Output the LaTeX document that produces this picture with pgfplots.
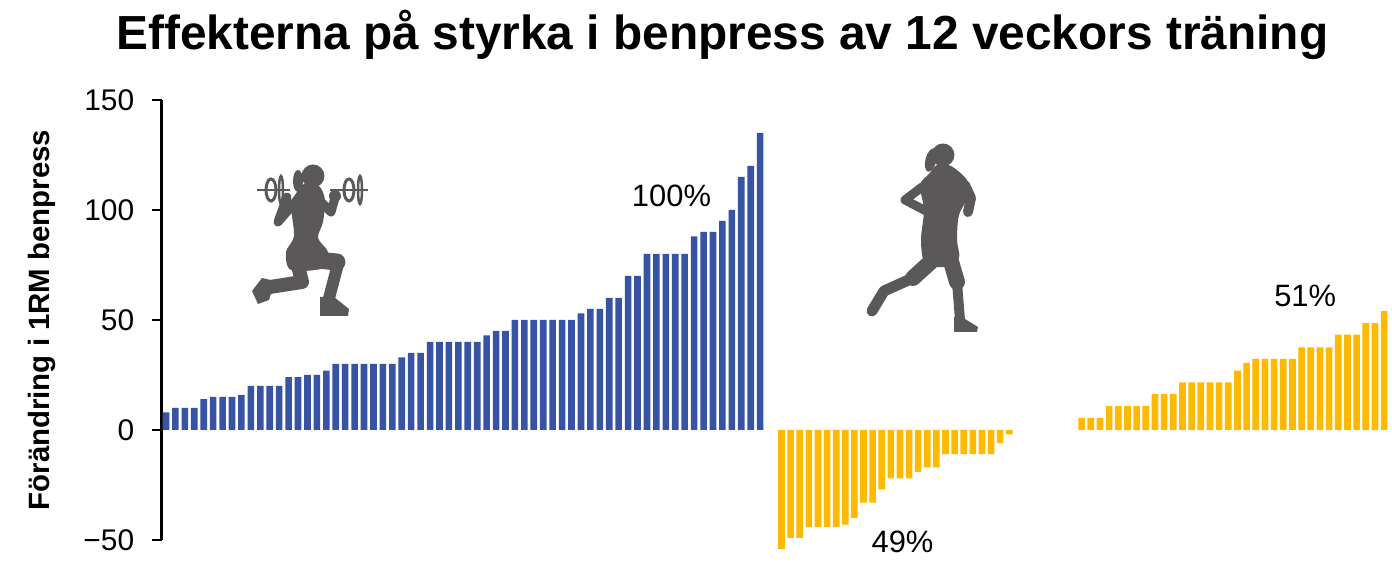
\documentclass[border=0pt]{standalone}
\usepackage{pgfplots}
\pgfplotsset{compat=1.18}
\usepackage{pgfplotstable}
\usepackage{fontspec}
\setmainfont{Liberation Sans}
\definecolor{bblue}{RGB}{54,83,164}
\definecolor{bor}{RGB}{255,185,0}
\definecolor{sil}{RGB}{90,88,88}

\pgfplotstableread{
v
8
10
10
10
14
15
15
15
16
20
20
20
20
24
24
25
25
27
30
30
30
30
30
30
30
33
35
35
40
40
40
40
40
40
43
45
45
50
50
50
50
50
50
50
53
55
55
60
60
70
70
80
80
80
80
80
88
90
90
95
100
115
120
135
}\strength

\pgfplotstableread{
v
-54
-49
-49
-44
-44
-44
-44
-43
-40
-33
-33
-27
-22
-22
-22
-19
-17
-17
-11
-11
-11
-11
-11
-11
-6
-2
}\runneg

\pgfplotstableread{
v
5.5
5.5
5.5
10.8
10.8
10.8
10.8
10.8
16.4
16.4
16.4
21.7
21.7
21.7
21.7
21.7
21.7
27
30.5
32.3
32.3
32.3
32.3
32.3
37.6
37.6
37.6
37.6
43.3
43.3
43.3
48.6
48.6
54
}\runpos

\begin{document}
\begin{tikzpicture}
\useasboundingbox (0,0) rectangle (1392bp,580bp);
\begin{axis}[
  at={(161.7bp,40bp)}, anchor=south west,
  scale only axis, width=1230.3bp, height=440bp,
  xmin=-0.456, xmax=130.0,
  ymin=-50, ymax=150,
  clip=false,
  axis x line=none,
  axis y line*=left,
  y axis line style={line width=2.5bp, -},
  ytick={-50,0,50,100,150},
  yticklabels={−50,0,50,100,150},
  tick align=outside,
  major tick length=10bp,
  ytick style={line width=2.5bp, black},
  yticklabel style={font=\fontsize{30}{30}\selectfont, xshift=-14bp},
  title={\bfseries Effekterna på styrka i benpress av 12 veckors träning},
  title style={at={(axis description cs:0.4558,1.1023)}, anchor=base, font=\fontsize{48}{48}\selectfont},
  ylabel={\bfseries Förändring i 1RM benpress},
  ylabel style={at={(axis description cs:-0.0975,0.5)}, anchor=center, font=\fontsize{29.5}{29.5}\selectfont},
  ybar, bar width=6.6bp, bar shift=0bp,
]
\addplot[fill=bblue, draw=none] table[x expr=\coordindex, y=v] {\strength};
\addplot[fill=bor, draw=none] table[x expr=65.27+0.966*\coordindex, y=v] {\runneg};
\addplot[fill=bor, draw=none] table[x expr=97.09+0.972*\coordindex, y=v] {\runpos};
\node[font=\fontsize{31}{31}\selectfont] at (axis cs:53.6,106.6) {100\%};
\node[font=\fontsize{31}{31}\selectfont] at (axis cs:78.1,-50.9) {49\%};
\node[font=\fontsize{31}{31}\selectfont] at (axis cs:120.8,61.1) {51\%};
\end{axis}
% silhouettes (pixel coordinates, y downwards)
\begin{scope}[shift={(0bp,580bp)}, x=1bp, y=-1bp]
  % lunge with barbell
  \draw[sil, line width=2.5] (257,190) -- (290,190);
  \draw[sil, line width=2.5] (330,190) -- (368,190);
  \draw[sil, line width=3] (271,190) ellipse (5 and 11);
  \draw[sil, line width=2.5] (281,190) ellipse (2 and 14);
  \draw[sil, line width=3] (349,190) ellipse (5 and 11);
  \draw[sil, line width=2.5] (360,190) ellipse (2 and 14);
  \fill[sil] (313,176) circle (11.5);
  \fill[sil] (298,181) ellipse (5 and 11);
  \fill[sil] plot[smooth cycle, tension=0.5] coordinates {(304,184) (319,186) (325,200) (323,222) (318,238) (328,252) (324,268) (291,270) (286,252) (294,236) (291,205) (297,192)};
  \draw[sil, line width=17, line cap=round] (306,259) -- (337,262);
  \draw[sil, line width=12, line cap=round] (338,264) -- (328,302);
  \fill[sil] (320,297) -- (334,297) -- (349,309) -- (348,316) -- (320,316) -- cycle;
  \draw[sil, line width=14, line cap=round, line join=round] (297,262) -- (302,282) -- (270,287);
  \fill[sil] (262,278) -- (275,281) -- (269,300) -- (258,304) -- (252,291) -- cycle;
  \draw[sil, line width=9, line cap=round, line join=round] (297,200) -- (278,222) -- (287,197);
  \draw[sil, line width=9, line cap=round, line join=round] (322,203) -- (331,212) -- (335,198);
  \fill[sil] (335,196) circle (6);
  % runner
  \fill[sil] (943,155) circle (11.5);
  \fill[sil, rotate around={-15:(931,160)}] (931,160) ellipse (5.5 and 12);
  \fill[sil] plot[smooth cycle, tension=0.5] coordinates {(937,165) (951,166) (967,180) (969,195) (959,215) (957,240) (959,258) (945,267) (925,263) (921,240) (924,210) (920,185) (929,174)};
  \draw[sil, line width=9, line cap=round, line join=round] (922,187) -- (905,200) -- (928,212);
  \draw[sil, line width=10, line cap=round, line join=round] (965,185) -- (971,198) -- (968,212);
  \draw[sil, line width=16, line cap=round] (935,258) -- (913,278);
  \draw[sil, line width=11, line cap=round, line join=round] (913,278) -- (884,291) -- (872,311);
  \draw[sil, line width=16, line cap=round] (950,258) -- (957,282);
  \draw[sil, line width=10, line cap=round] (957,282) -- (960,320);
  \fill[sil] (954,317) -- (965,319) -- (978,327) -- (977,332) -- (954,332) -- cycle;
\end{scope}
\end{tikzpicture}
\end{document}
